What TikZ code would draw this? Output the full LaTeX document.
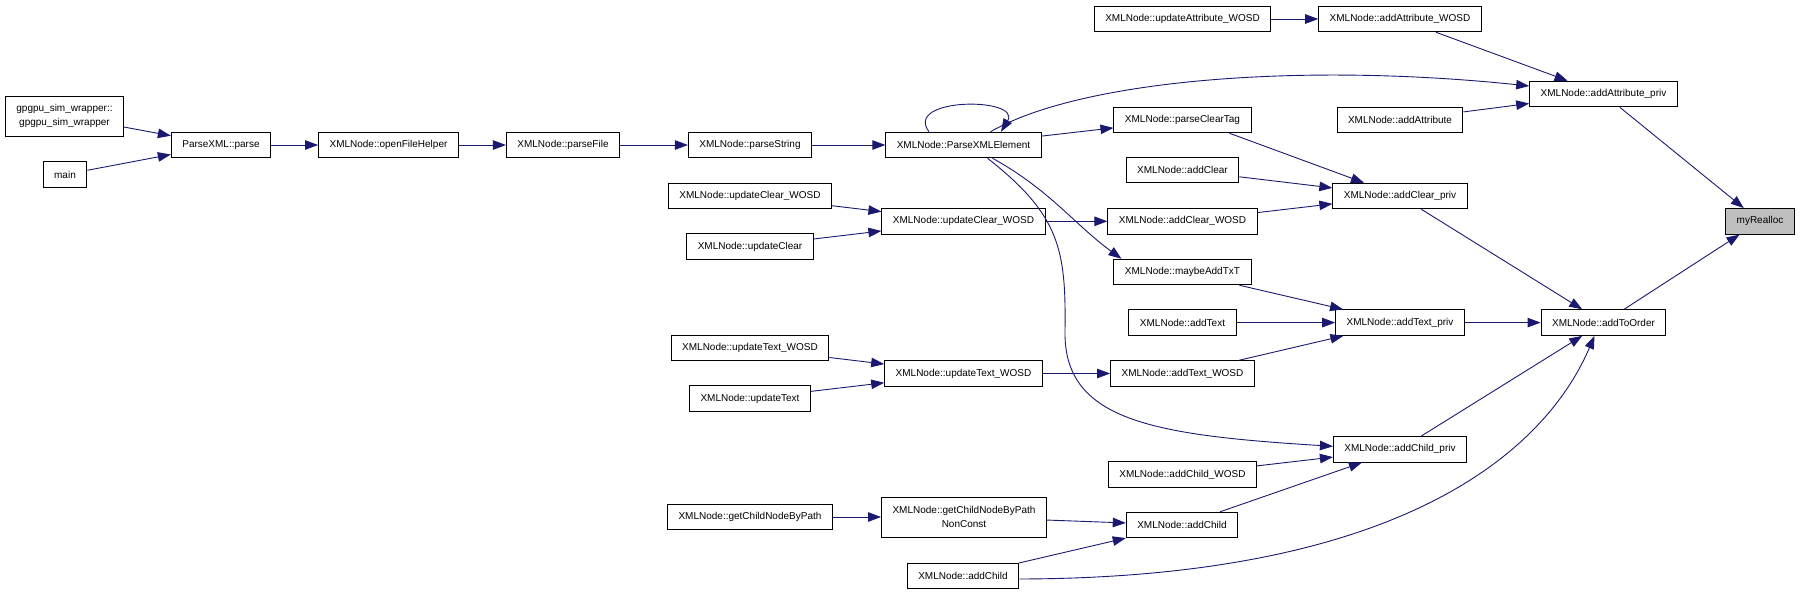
\documentclass[tikz,border=0pt]{standalone}
\usepackage{fontspec}
\setmainfont{Liberation Sans}
\usetikzlibrary{arrows.meta, positioning, calc}
\definecolor{callblue}{RGB}{25,25,112}
\definecolor{focusgray}{RGB}{191,191,191}

\begin{document}
\begin{tikzpicture}[
    x=1pt, y=-1pt,
    >={Triangle[length=13pt, width=9.5pt]},
    % Define the box styles of the call graph
    fn/.style={rectangle, draw=black, line width=1pt, fill=white, font=\fontsize{10}{14}\selectfont, inner xsep=11pt, inner ysep=0pt, minimum height=25.5pt, align=center},
    twoline/.style={fn, minimum height=40pt},
    focus/.style={fn, fill=focusgray},
    calls/.style={->, draw=callblue, line width=0.9pt}
]
    \useasboundingbox (0,0) rectangle (1800,595);

    % --- Entry points and parse chain ---
    \node[twoline] (gpgpu) at (64.5,116) {gpgpu\_sim\_wrapper::\\gpgpu\_sim\_wrapper};
    \node[fn] (main) at (65,174.5) {main};
    \node[fn] (parse) at (221,145) {ParseXML::parse};
    \node[fn] (open_helper) at (388.5,145) {XMLNode::openFileHelper};
    \node[fn] (parse_file) at (563,145) {XMLNode::parseFile};
    \node[fn] (parse_string) at (750,145) {XMLNode::parseString};
    \node[fn] (parse_elem) at (963.5,145) {XMLNode::ParseXMLElement};

    % --- Column of update wrappers ---
    \node[fn] (upd_clear_wosd_l) at (750,196) {XMLNode::updateClear\_WOSD};
    \node[fn] (upd_clear) at (750,246.5) {XMLNode::updateClear};
    \node[fn] (upd_text_wosd_l) at (750,348) {XMLNode::updateText\_WOSD};
    \node[fn] (upd_text) at (750,398.5) {XMLNode::updateText};
    \node[fn] (get_child_path) at (750,517) {XMLNode::getChildNodeByPath};

    \node[fn] (upd_clear_wosd) at (963.5,221.3) {XMLNode::updateClear\_WOSD};
    \node[fn] (upd_text_wosd) at (963.5,373.5) {XMLNode::updateText\_WOSD};
    \node[twoline] (get_child_nonconst) at (964,517) {XMLNode::getChildNodeByPath\\NonConst};
    \node[fn] (add_child_l) at (963,576) {XMLNode::addChild};

    % --- Public adders ---
    \node[fn] (upd_attr_wosd) at (1182.5,19) {XMLNode::updateAttribute\_WOSD};
    \node[fn] (parse_clear_tag) at (1182.5,120) {XMLNode::parseClearTag};
    \node[fn] (add_clear) at (1182.5,170) {XMLNode::addClear};
    \node[fn] (add_clear_wosd) at (1182.5,221.3) {XMLNode::addClear\_WOSD};
    \node[fn] (maybe_add_txt) at (1182.5,272) {XMLNode::maybeAddTxT};
    \node[fn] (add_text) at (1182.5,322.6) {XMLNode::addText};
    \node[fn] (add_text_wosd) at (1182.5,373.5) {XMLNode::addText\_WOSD};
    \node[fn] (add_child_wosd) at (1182.5,474.5) {XMLNode::addChild\_WOSD};
    \node[fn] (add_child_r) at (1182,525) {XMLNode::addChild};

    % --- Private adders ---
    \node[fn] (add_attr_wosd) at (1400,19) {XMLNode::addAttribute\_WOSD};
    \node[fn] (add_attr) at (1400,120) {XMLNode::addAttribute};
    \node[fn] (add_clear_priv) at (1400,196) {XMLNode::addClear\_priv};
    \node[fn] (add_text_priv) at (1400,322.6) {XMLNode::addText\_priv};
    \node[fn] (add_child_priv) at (1400,449.3) {XMLNode::addChild\_priv};

    \node[fn] (add_attr_priv) at (1603.5,94) {XMLNode::addAttribute\_priv};
    \node[fn] (add_to_order) at (1603.5,322.6) {XMLNode::addToOrder};
    \node[focus] (my_realloc) at (1760,221.3) {myRealloc};

    % --- Straight calls ---
    \foreach \a/\b in {gpgpu/parse, main/parse, parse/open_helper, open_helper/parse_file,
        parse_file/parse_string, parse_string/parse_elem, parse_elem/parse_clear_tag,
        upd_attr_wosd/add_attr_wosd, add_attr_wosd/add_attr_priv, add_attr/add_attr_priv,
        add_attr_priv/my_realloc, add_clear/add_clear_priv, add_clear_wosd/add_clear_priv,
        upd_clear_wosd_l/upd_clear_wosd, upd_clear/upd_clear_wosd, upd_clear_wosd/add_clear_wosd,
        add_clear_priv/add_to_order, maybe_add_txt/add_text_priv, add_text/add_text_priv,
        add_text_wosd/add_text_priv, upd_text_wosd_l/upd_text_wosd, upd_text/upd_text_wosd,
        upd_text_wosd/add_text_wosd, add_text_priv/add_to_order, add_to_order/my_realloc,
        add_child_priv/add_to_order, add_child_wosd/add_child_priv, add_child_r/add_child_priv,
        get_child_path/get_child_nonconst, get_child_nonconst/add_child_r, add_child_l/add_child_r}
        \draw[calls] (\a) -- (\b);

    \draw[calls] ($(parse_clear_tag.south)+(47,0)$) -- (add_clear_priv);

    % --- Curved calls ---
    % recursion of ParseXMLElement
    \draw[calls] ($(parse_elem.north)+(-34.5,0)$) .. controls (903,97) and (1022,97) .. ($(parse_elem.north)+(37.5,0)$);
    \draw[calls] ($(parse_elem.north)+(27,0)$) .. controls (1080,80) and (1300,62) .. ($(add_attr_priv.west)+(0,-8)$);
    \draw[calls] ($(parse_elem.south)+(29,0)$) .. controls (1050,190) and (1075,225) .. ($(maybe_add_txt.north west)+(8,0)$);
    \draw[calls] ($(parse_elem.south)+(24,0)$) .. controls (1060,215) and (1066,250) .. (1065,330)
        .. controls (1063,420) and (1150,435) .. ($(add_child_priv.west)+(0,-3)$);
    \draw[calls] ($(add_child_l.east)+(0,3)$) .. controls (1420,578) and (1550,440) .. ($(add_to_order.south)+(-9,0)$);

\end{tikzpicture}
\end{document}
